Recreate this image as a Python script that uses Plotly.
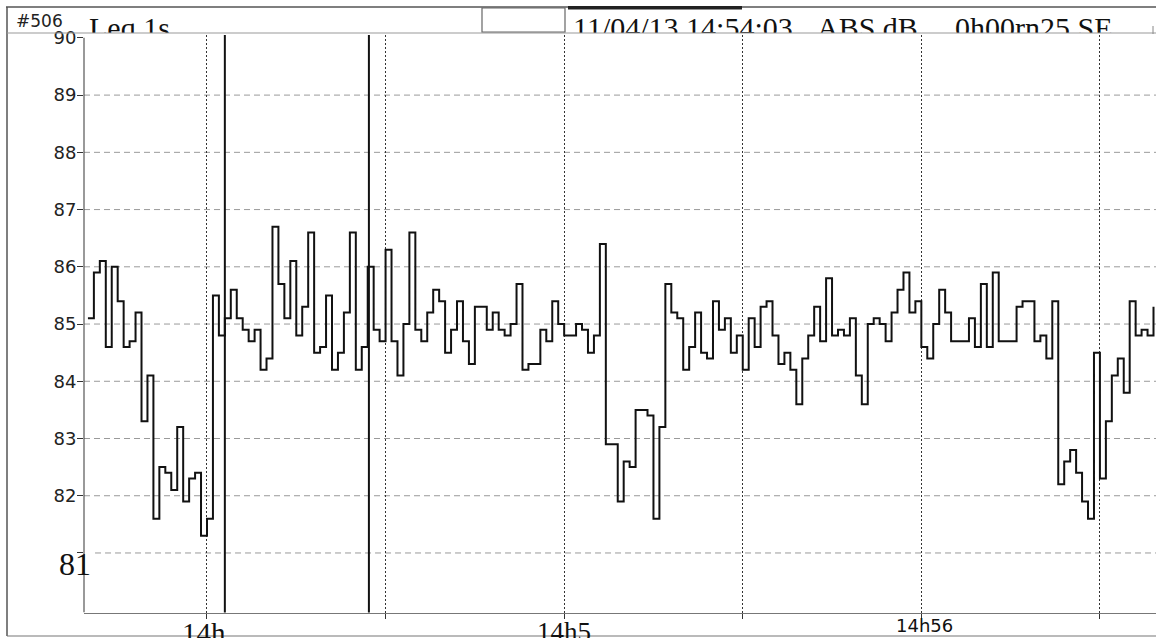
import pandas as pd
import plotly.graph_objects as go

W, H = 1156, 638

# Leq 1 s readings, one value per second from 14:53:40
start_time = "2013-04-11 14:53:40"
leq_db = [
    85.1, 85.9, 86.1, 84.6, 86.0, 85.4, 84.6, 84.7, 85.2, 83.3,
    84.1, 81.6, 82.5, 82.4, 82.1, 83.2, 81.9, 82.3, 82.4, 81.3,
    81.6, 85.5, 84.8, 85.1, 85.6, 85.1, 84.9, 84.7, 84.9, 84.2,
    84.4, 86.7, 85.7, 85.1, 86.1, 84.8, 85.3, 86.6, 84.5, 84.6,
    85.5, 84.2, 84.5, 85.2, 86.6, 84.2, 84.6, 86.0, 84.9, 84.7,
    86.3, 84.7, 84.1, 85.0, 86.6, 84.9, 84.7, 85.2, 85.6, 85.4,
    84.5, 84.9, 85.4, 84.7, 84.3, 85.3, 85.3, 84.9, 85.2, 84.9,
    84.8, 85.0, 85.7, 84.2, 84.3, 84.3, 84.9, 84.7, 85.4, 85.0,
    84.8, 84.8, 85.0, 84.9, 84.5, 84.8, 86.4, 82.9, 82.9, 81.9,
    82.6, 82.5, 83.5, 83.5, 83.4, 81.6, 83.2, 85.7, 85.2, 85.1,
    84.2, 84.6, 85.2, 84.5, 84.4, 85.4, 84.9, 85.1, 84.5, 84.8,
    84.2, 85.1, 84.6, 85.3, 85.4, 84.8, 84.3, 84.5, 84.2, 83.6,
    84.4, 84.8, 85.3, 84.7, 85.8, 84.8, 84.9, 84.8, 85.1, 84.1,
    83.6, 85.0, 85.1, 85.0, 84.7, 85.2, 85.6, 85.9, 85.2, 85.4,
    84.6, 84.4, 85.0, 85.6, 85.2, 84.7, 84.7, 84.7, 85.1, 84.6,
    85.7, 84.6, 85.9, 84.7, 84.7, 84.7, 85.3, 85.4, 85.4, 84.7,
    84.8, 84.4, 85.4, 82.2, 82.6, 82.8, 82.4, 81.9, 81.6, 84.5,
    82.3, 83.3, 84.1, 84.4, 83.8, 85.4, 84.8, 84.9, 84.8, 85.3,
]
times = pd.date_range(start_time, periods=len(leq_db), freq="s")

x_range = ["2013-04-11 14:53:39.34", "2013-04-11 14:56:39.42"]
x_tick_times = [
    "2013-04-11 14:54:00", "2013-04-11 14:54:30", "2013-04-11 14:55:00",
    "2013-04-11 14:55:30", "2013-04-11 14:56:00", "2013-04-11 14:56:30",
]
# time labels under the axis: (tick index, text, font family, size, y centre px, x shift)
x_time_labels = [
    (0, "14h", "serif", 29, 633, -3),
    (2, "14h5", "serif", 27, 632, 0),
    (4, "14h56", "sans", 18, 625, 3),
]

y_range = [79.96, 90.05]
y_tick_vals = [81, 82, 83, 84, 85, 86, 87, 88, 89, 90]
y_tick_text = ["", "82", "83", "84", "85", "86", "87", "88", "89", "90"]
grid_levels = [81, 82, 83, 84, 85, 86, 87, 88, 89]

# cursor positions (start / end of the marked interval)
cursor_times = ["2013-04-11 14:54:03.0", "2013-04-11 14:54:27.2"]

header_texts = ["Leq 1s", "11/04/13 14:54:03", "ABS dB", "0h00rn25 SE"]
header_x = [89, 573, 817, 955]

SERIF = "Liberation Serif, Times New Roman, serif"
SANS = "DejaVu Sans, Arial, sans-serif"


def px_x(x):
    return x / W


def px_y(y):
    return 1 - y / H


fig = go.Figure()

fig.add_trace(go.Scatter(
    x=times, y=leq_db, mode="lines",
    line=dict(color="#111111", width=2, shape="hv"),
    hoverinfo="skip", showlegend=False, xaxis="x", yaxis="y",
))

# header strip: big labels whose lower part is cut by the strip edge
fig.add_trace(go.Scatter(
    x=header_x, y=[30.5] * len(header_texts), mode="text",
    text=header_texts, textposition="middle right",
    textfont=dict(family=SERIF, size=30, color="#111111"),
    marker=dict(size=0), cliponaxis=True,
    hoverinfo="skip", showlegend=False, xaxis="x2", yaxis="y2",
))

shapes = []
# horizontal dashed grid
for lv in grid_levels:
    shapes.append(dict(
        type="line", xref="x domain", yref="y",
        x0=(0.0103 if lv == 81 else 0.0), x1=1, y0=lv, y1=lv,
        line=dict(color="#9a9a9a", width=1, dash="6px,4px"), layer="below",
    ))
# y axis line
shapes.append(dict(type="line", xref="x domain", yref="y", x0=0, x1=0,
                   y0=y_range[0], y1=90, line=dict(color="#555555", width=1.2)))
# cursors
for ct in cursor_times:
    shapes.append(dict(type="line", xref="x", yref="y domain", x0=ct, x1=ct,
                       y0=0, y1=1, line=dict(color="#111111", width=2), layer="above"))
# outer frame and header
shapes += [
    dict(type="line", xref="paper", yref="paper", x0=px_x(6), x1=1,
         y0=px_y(7), y1=px_y(7), line=dict(color="#555555", width=1.5)),
    dict(type="line", xref="paper", yref="paper", x0=px_x(7), x1=px_x(7),
         y0=px_y(7), y1=px_y(636), line=dict(color="#555555", width=1.5)),
    dict(type="line", xref="paper", yref="paper", x0=px_x(7), x1=1,
         y0=px_y(636), y1=px_y(636), line=dict(color="#777777", width=1.2)),
    dict(type="line", xref="paper", yref="paper", x0=px_x(7), x1=1,
         y0=px_y(33), y1=px_y(33), line=dict(color="#999999", width=1.2)),
    dict(type="rect", xref="paper", yref="paper", x0=px_x(482), x1=px_x(565),
         y0=px_y(32), y1=px_y(8), line=dict(color="#666666", width=1.2)),
    dict(type="rect", xref="paper", yref="paper", x0=px_x(568), x1=px_x(742),
         y0=px_y(9.5), y1=px_y(6), fillcolor="#222222", line=dict(width=0)),
    dict(type="line", xref="paper", yref="paper", x0=px_x(1153), x1=px_x(1153),
         y0=px_y(26), y1=px_y(34), line=dict(color="#888888", width=1)),
]

annotations = [
    dict(text="#506", xref="paper", yref="paper", x=px_x(14), y=px_y(21),
         xanchor="left", yanchor="middle", showarrow=False,
         font=dict(family=SANS, size=17, color="#222222")),
    dict(text="81", xref="paper", yref="paper", x=px_x(75), y=px_y(563.5),
         xanchor="center", yanchor="middle", showarrow=False,
         font=dict(family=SERIF, size=32, color="#111111")),
]
for idx, label, fam, size, yc, shift in x_time_labels:
    annotations.append(dict(
        text=label, xref="x", yref="paper", x=x_tick_times[idx], y=px_y(yc),
        xanchor="center", yanchor="middle", xshift=shift, showarrow=False,
        font=dict(family=SERIF if fam == "serif" else SANS, size=size,
                  color="#111111"),
    ))

fig.update_layout(
    template="none",
    width=W, height=H,
    margin=dict(l=0, r=0, t=0, b=0, pad=0),
    paper_bgcolor="white", plot_bgcolor="white",
    showlegend=False,
    xaxis=dict(
        domain=[84 / W, 1], type="date", range=x_range, anchor="y",
        tickmode="array", tickvals=x_tick_times,
        ticktext=[""] * len(x_tick_times),
        showgrid=True, gridcolor="#333333", gridwidth=1.2, griddash="2px,2px",
        ticks="outside", ticklen=5, tickcolor="#333333", tickwidth=1.2,
        showline=True, linecolor="#777777", linewidth=1.2, zeroline=False,
        automargin=False,
    ),
    yaxis=dict(
        domain=[px_y(612.5), px_y(35)], range=y_range, anchor="x",
        tickmode="array", tickvals=y_tick_vals, ticktext=y_tick_text,
        showgrid=False, ticks="outside", ticklen=6, tickcolor="#333333",
        tickwidth=1.2, showline=False, zeroline=False, ticklabelstandoff=-3,
        tickfont=dict(family=SANS, size=18, color="#222222"), automargin=False,
    ),
    xaxis2=dict(domain=[0, 1], range=[0, W], visible=False, anchor="y2",
                fixedrange=True),
    yaxis2=dict(domain=[px_y(33), px_y(7)], range=[33, 7], visible=False,
                anchor="x2", fixedrange=True),
    shapes=shapes,
    annotations=annotations,
)

fig.write_html("out.html")
